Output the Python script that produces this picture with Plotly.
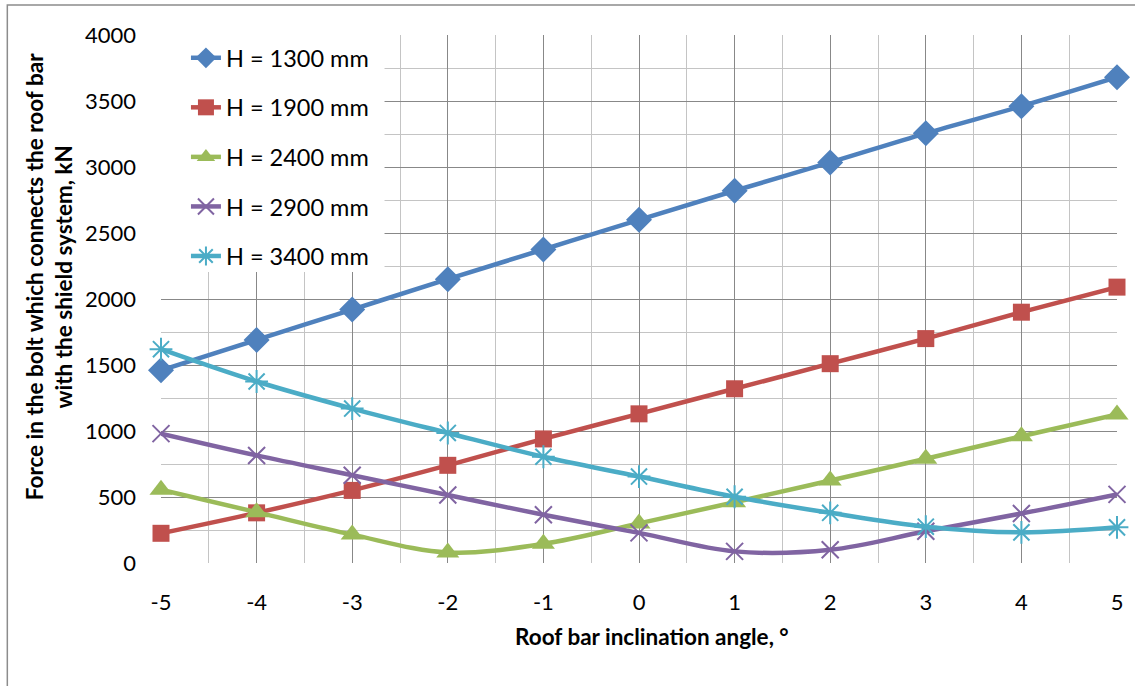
import plotly.graph_objects as go

angles = [-5, -4, -3, -2, -1, 0, 1, 2, 3, 4, 5]
angle_labels = ["-5", "-4", "-3", "-2", "-1", "0", "1", "2", "3", "4", "5"]
h1300 = [1460, 1690, 1920, 2150, 2375, 2600, 2820, 3035, 3255, 3460, 3680]
h1900 = [225, 380, 550, 740, 940, 1130, 1320, 1510, 1700, 1900, 2090]
h2400 = [555, 385, 215, 80, 145, 300, 460, 625, 790, 960, 1125]
h2900 = [980, 815, 665, 515, 365, 228, 88, 100, 240, 375, 520]
h3400 = [1620, 1375, 1170, 985, 805, 655, 502, 380, 275, 232, 270]
names = ["H = 1300 mm", "H = 1900 mm", "H = 2400 mm", "H = 2900 mm", "H = 3400 mm"]
y_ticks = [0, 500, 1000, 1500, 2000, 2500, 3000, 3500, 4000]

colors = ["#4F81BD", "#C0504D", "#9BBB59", "#8064A2", "#4BACC6"]
symbols = ["diamond", "square", "triangle-up", "x-thin-open", "asterisk-open"]
msizes = [20, 17, 20, 17, 19]

FONT = "Lato"
W, H = 1135, 686
L, R, T, B = 161, 16, 35, 123
PW, PH = W - L - R, H - T - B

def px(xp):
    return (xp - L) / PW

def py(yp):
    return (H - B - yp) / PH

fig = go.Figure()
series = [h1300, h1900, h2400, h2900, h3400]
for i, ys in enumerate(series):
    marker = dict(symbol=symbols[i], size=msizes[i], color=colors[i])
    if symbols[i].endswith("open"):
        marker["line"] = dict(color=colors[i], width=2)
    fig.add_trace(go.Scatter(
        x=angles, y=ys, name=names[i], mode="lines+markers",
        line=dict(color=colors[i], width=4.5, shape="spline", smoothing=1.0),
        marker=marker, cliponaxis=False, legendgroup=str(i),
    ))

# white box behind the legend (hides grid like the original)
fig.add_shape(type="rect", xref="paper", yref="paper",
              x0=px(155), x1=px(385), y0=py(272), y1=py(30),
              fillcolor="white", line_width=0, layer="above")
# outer chart border (left and top)
fig.add_shape(type="path", xref="paper", yref="paper",
              path=f"M {px(7)} {py(700)} L {px(7)} {py(5)} L {px(1140)} {py(5)}",
              line=dict(color="#8c8c8c", width=1.5), layer="above")

fig.add_annotation(text="<b>Roof bar inclination angle, °</b>", xref="paper", yref="paper",
                   x=px(653), y=py(636), xanchor="center", yanchor="middle", showarrow=False,
                   font=dict(family=FONT, size=22.5, color="black"))
fig.add_annotation(text="<b>Force in the bolt which connects the roof bar<br>with the shield system, kN</b>",
                   xref="paper", yref="paper", x=px(49), y=py(277),
                   xanchor="center", yanchor="middle", showarrow=False,
                   textangle=-90, font=dict(family=FONT, size=22.5, color="black"))

fig.update_layout(
    width=W, height=H, margin=dict(l=L, r=R, t=T, b=B),
    paper_bgcolor="white", plot_bgcolor="white",
    font=dict(family=FONT, size=22, color="black"),
    showlegend=True,
    legend=dict(x=px(186), y=py(36), xanchor="left", yanchor="top",
                bgcolor="rgba(0,0,0,0)", font=dict(family=FONT, size=23.5, color="black"),
                tracegroupgap=16, itemsizing="trace"),
    xaxis=dict(range=[-5, 5], tickvals=angles, ticktext=angle_labels,
               showgrid=True, gridcolor="#888888", gridwidth=1,
               minor=dict(dtick=0.5, showgrid=True, gridcolor="#c4c4c4", gridwidth=1),
               zeroline=False, showline=False, ticks="", ticklabelstandoff=24,
               tickfont=dict(family=FONT, size=22, color="black"), fixedrange=True),
    yaxis=dict(range=[0, 4000], tickvals=y_ticks, showgrid=True, gridcolor="#888888", gridwidth=1,
               minor=dict(dtick=250, showgrid=True, gridcolor="#c4c4c4", gridwidth=1),
               zeroline=False, showline=False, ticks="", ticklabelstandoff=24,
               tickfont=dict(family=FONT, size=22, color="black"), fixedrange=True),
)

fig.write_html("out.html")
